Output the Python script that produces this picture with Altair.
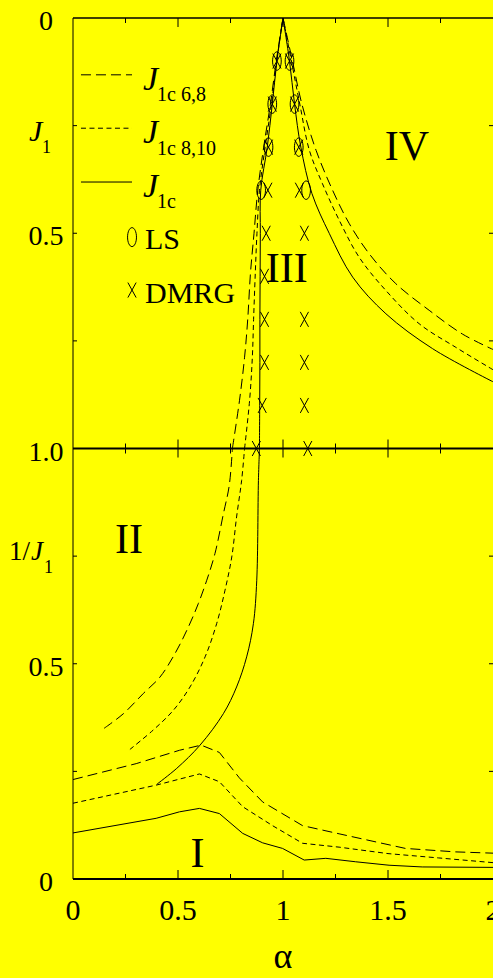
import altair as alt
import pandas as pd

# ---------------------------------------------------------------------------
# Critical coupling lines J1c(alpha).
# Each line: a rising branch drawn in the 1/J1 panel, a left and a right branch
# meeting at the apex (alpha = 1, J1 = 0) in the J1 panel, and a low branch in
# the 1/J1 panel.
# ---------------------------------------------------------------------------

# J1c 6,8 (long dash)
c68_rise_alpha = [0.148, 0.240, 0.335, 0.414, 0.486, 0.549, 0.597, 0.637, 0.676, 0.716, 0.744, 0.759]
c68_rise_inv = [0.350, 0.384, 0.431, 0.469, 0.524, 0.585, 0.640, 0.694, 0.756, 0.848, 0.914, 1.000]
c68_left_alpha = [0.759, 0.793, 0.817, 0.832, 0.845, 0.862, 0.880, 0.908, 0.940, 0.968, 1.000]
c68_left_j1 = [1.000, 0.888, 0.788, 0.700, 0.593, 0.500, 0.400, 0.300, 0.200, 0.100, 0.000]
c68_right_alpha = [1.000, 1.045, 1.090, 1.158, 1.237, 1.316, 1.411, 1.537, 1.696, 1.854, 2.000]
c68_right_j1 = [0.000, 0.100, 0.200, 0.308, 0.401, 0.478, 0.548, 0.617, 0.679, 0.734, 0.770]
c68_low_alpha = [0.000, 0.301, 0.507, 0.610, 0.697, 0.792, 0.903, 1.093, 1.267, 1.583, 1.821, 2.000]
c68_low_inv = [0.231, 0.268, 0.299, 0.311, 0.294, 0.235, 0.179, 0.124, 0.105, 0.071, 0.063, 0.060]

# J1c 8,10 (short dash)
c810_rise_alpha = [0.271, 0.382, 0.478, 0.557, 0.629, 0.684, 0.724, 0.756, 0.779, 0.803, 0.817]
c810_rise_inv = [0.301, 0.346, 0.392, 0.446, 0.516, 0.593, 0.671, 0.748, 0.841, 0.926, 1.000]
c810_left_alpha = [0.817, 0.841, 0.854, 0.860, 0.868, 0.876, 0.888, 0.915, 0.945, 0.970, 1.000]
c810_left_j1 = [1.000, 0.888, 0.788, 0.700, 0.593, 0.500, 0.400, 0.300, 0.200, 0.100, 0.000]
c810_right_alpha = [1.000, 1.040, 1.080, 1.126, 1.188, 1.268, 1.363, 1.490, 1.648, 1.823, 2.000]
c810_right_j1 = [0.000, 0.100, 0.200, 0.308, 0.385, 0.470, 0.556, 0.633, 0.710, 0.765, 0.817]
c810_low_alpha = [0.000, 0.396, 0.602, 0.697, 0.808, 0.950, 1.093, 1.267, 1.500, 1.740, 2.000]
c810_low_inv = [0.176, 0.218, 0.244, 0.226, 0.168, 0.124, 0.083, 0.074, 0.059, 0.049, 0.038]

# J1c extrapolated (solid)
c_rise_alpha = [0.399, 0.494, 0.605, 0.716, 0.779, 0.827, 0.859, 0.875, 0.883, 0.888]
c_rise_inv = [0.220, 0.257, 0.311, 0.384, 0.446, 0.516, 0.593, 0.694, 0.926, 1.000]
c_left_alpha = [0.888, 0.889, 0.890, 0.890, 0.891, 0.892, 0.894, 0.925, 0.949, 0.971, 1.000]
c_left_j1 = [1.000, 0.900, 0.800, 0.700, 0.600, 0.500, 0.400, 0.300, 0.200, 0.100, 0.000]
c_right_alpha = [1.000, 1.031, 1.055, 1.085, 1.138, 1.221, 1.332, 1.490, 1.712, 2.000]
c_right_j1 = [0.000, 0.100, 0.200, 0.300, 0.408, 0.501, 0.602, 0.687, 0.768, 0.845]
c_low_alpha = [0.000, 0.396, 0.507, 0.602, 0.697, 0.808, 0.903, 0.998, 1.101, 1.204, 1.346, 1.505, 1.663, 2.000]
c_low_inv = [0.107, 0.141, 0.156, 0.164, 0.152, 0.106, 0.084, 0.071, 0.044, 0.048, 0.040, 0.032, 0.028, 0.027]

# LS points
ls_alpha = [0.971, 0.949, 0.931, 0.896, 1.031, 1.055, 1.075, 1.110]
ls_j1 = [0.1, 0.2, 0.3, 0.4, 0.1, 0.2, 0.3, 0.4]

# DMRG points
dmrg_alpha = [0.971, 0.949, 0.931, 0.928, 0.920, 0.912, 0.912, 0.912, 0.901, 0.873,
              1.031, 1.055, 1.075, 1.078, 1.102, 1.102, 1.102, 1.102, 1.118]
dmrg_j1 = [0.1, 0.2, 0.3, 0.4, 0.5, 0.6, 0.7, 0.8, 0.9, 1.0,
           0.1, 0.2, 0.3, 0.4, 0.5, 0.7, 0.8, 0.9, 1.0]

# axis ticks and labels (the vertical coordinate runs 0..1 for J1, then 1..2 for 2 - 1/J1)
x_label_values = [0, 0.5, 1, 1.5, 2]
x_label_text = ["0", "0.5", "1", "1.5", "2"]
y_label_values = [0, 0.5, 1, 1.5, 2]
y_label_text = ["0", "0.5", "1.0", "0.5", "0"]
x_ticks_major = [0.5, 1.0, 1.5]
x_ticks_minor = [0.25, 0.75, 1.25, 1.75]
y_ticks = [0.25, 0.5, 0.75, 1.25, 1.5, 1.75]

# ---------------------------------------------------------------------------
SERIF = "Liberation Serif"
W, H = 420, 861
BG = "#ffff00"

xs = alt.Scale(domain=[0, 2], nice=False, zero=False)
ys = alt.Scale(domain=[0, 2], nice=False, zero=False, reverse=True)
U_EXPR = "datum.panel == 'J1' ? datum.val : 2 - datum.val"

ELLIPSE = "M-0.47,0A0.47,1,0,1,0,0.47,0A0.47,1,0,1,0,-0.47,0Z"
CROSS = "M-0.55,-1L0.55,1M-0.55,1L0.55,-1"


def branch(series, name, panel, alphas, vals):
    return pd.DataFrame({
        "piece": f"{series}-{name}", "panel": panel,
        "alpha": alphas, "val": vals, "idx": list(range(len(alphas))),
    })


def xy():
    return dict(
        x=alt.X("alpha:Q", scale=xs, axis=None),
        y=alt.Y("u:Q", scale=ys, axis=None),
    )


layers = []

# frame: top, middle and bottom edges, left edge
frame_h = pd.DataFrame({"u": [0, 1, 2], "w": [1.3, 2.0, 2.0]})
layers.append(
    alt.Chart(frame_h).mark_rule(color="black").encode(
        y=alt.Y("u:Q", scale=ys, axis=None),
        strokeWidth=alt.StrokeWidth("w:Q", scale=None),
    )
)
layers.append(
    alt.Chart(pd.DataFrame({"k": [0]})).mark_rule(color="black", strokeWidth=1).encode(
        x=alt.XDatum(0, scale=xs, axis=None)
    )
)

# inward alpha ticks on the top, middle and bottom edges
for ticks, L in [(x_ticks_major, 9), (x_ticks_minor, 5)]:
    tdf = pd.DataFrame({"a": ticks})
    tx = alt.X("a:Q", scale=xs, axis=None)
    layers.append(alt.Chart(tdf).mark_rule(color="black", y2Offset=L).encode(
        x=tx, y=alt.YDatum(0, scale=ys, axis=None), y2=alt.Y2Datum(0)))
    layers.append(alt.Chart(tdf).mark_rule(color="black", yOffset=-L, y2Offset=L).encode(
        x=tx, y=alt.YDatum(1, scale=ys, axis=None), y2=alt.Y2Datum(1)))
    layers.append(alt.Chart(tdf).mark_rule(color="black", y2Offset=-L).encode(
        x=tx, y=alt.YDatum(2, scale=ys, axis=None), y2=alt.Y2Datum(2)))

# inward ticks on the left and right edges
ytdf = pd.DataFrame({"t": y_ticks})
layers.append(alt.Chart(ytdf).mark_rule(color="black", x2Offset=4).encode(
    y=alt.Y("t:Q", scale=ys, axis=None), x=alt.XDatum(0, scale=xs, axis=None), x2=alt.X2Datum(0)))
layers.append(alt.Chart(ytdf).mark_rule(color="black", x2Offset=-4).encode(
    y=alt.Y("t:Q", scale=ys, axis=None), x=alt.XDatum(2, scale=xs, axis=None), x2=alt.X2Datum(2)))

# tick labels, placed through the scales
layers.append(
    alt.Chart(pd.DataFrame({"alpha": x_label_values, "text": x_label_text}))
    .mark_text(font=SERIF, fontSize=30, color="black", align="center", baseline="middle")
    .encode(x=alt.X("alpha:Q", scale=xs, axis=None), y=alt.value(H + 32), text="text:N")
)
layers.append(
    alt.Chart(pd.DataFrame({"u": y_label_values, "text": y_label_text}))
    .mark_text(font=SERIF, fontSize=28, color="black", align="center", baseline="middle", dy=4)
    .encode(y=alt.Y("u:Q", scale=ys, axis=None), x=alt.value(-27), text="text:N")
)

# critical lines
series_defs = [
    ("68", [10, 5],
     (c68_rise_alpha, c68_rise_inv), (c68_left_alpha, c68_left_j1),
     (c68_right_alpha, c68_right_j1), (c68_low_alpha, c68_low_inv)),
    ("810", [5, 3.5],
     (c810_rise_alpha, c810_rise_inv), (c810_left_alpha, c810_left_j1),
     (c810_right_alpha, c810_right_j1), (c810_low_alpha, c810_low_inv)),
    ("c", None,
     (c_rise_alpha, c_rise_inv), (c_left_alpha, c_left_j1),
     (c_right_alpha, c_right_j1), (c_low_alpha, c_low_inv)),
]

for name, dash, rise, left, right, low in series_defs:
    kw = dict(color="black", strokeWidth=1, clip=True)
    if dash:
        kw["strokeDash"] = dash
    smooth = pd.concat([
        branch(name, "rise", "inv", *rise),
        branch(name, "left", "J1", *left),
        branch(name, "right", "J1", *right),
    ])
    lowdf = branch(name, "low", "inv", *low)
    layers.append(
        alt.Chart(smooth).transform_calculate(u=U_EXPR)
        .mark_line(interpolate="catmull-rom", **kw)
        .encode(detail="piece:N", order="idx:Q", **xy())
    )
    layers.append(
        alt.Chart(lowdf).transform_calculate(u=U_EXPR)
        .mark_line(**kw)
        .encode(detail="piece:N", order="idx:Q", **xy())
    )

# LS and DMRG points
layers.append(
    alt.Chart(pd.DataFrame({"alpha": ls_alpha, "u": ls_j1}))
    .mark_point(shape=ELLIPSE, size=340, filled=False, color="black", strokeWidth=1, opacity=1)
    .encode(**xy())
)
layers.append(
    alt.Chart(pd.DataFrame({"alpha": dmrg_alpha, "u": dmrg_j1}))
    .mark_point(shape=CROSS, size=225, filled=False, color="black", strokeWidth=1, opacity=1)
    .encode(**xy())
)

# legend samples
for dash, u in [([10, 5], 0.132), ([5, 3.5], 0.256), (None, 0.381)]:
    kw = dict(color="black", strokeWidth=1)
    if dash:
        kw["strokeDash"] = dash
    layers.append(
        alt.Chart(pd.DataFrame({"alpha": [0.038, 0.281], "u": [u, u]}))
        .mark_line(**kw).encode(**xy())
    )
layers.append(
    alt.Chart(pd.DataFrame({"alpha": [0.281], "u": [0.509]}))
    .mark_point(shape=ELLIPSE, size=360, filled=False, color="black", strokeWidth=1, opacity=1)
    .encode(**xy())
)
layers.append(
    alt.Chart(pd.DataFrame({"alpha": [0.281], "u": [0.632]}))
    .mark_point(shape=CROSS, size=225, filled=False, color="black", strokeWidth=1, opacity=1)
    .encode(**xy())
)


def text_layer(df, **mark):
    return alt.Chart(df).mark_text(color="black", font=SERIF, **mark).encode(
        text="text:N", size=alt.Size("size:Q", scale=None), **xy()
    )


legend_j = pd.DataFrame({"text": ["J", "J", "J"], "alpha": [0.333] * 3,
                         "u": [0.167, 0.290, 0.416], "size": [34] * 3})
legend_txt = pd.DataFrame({
    "text": ["1c 6,8", "1c 8,10", "1c", "LS", "DMRG"],
    "alpha": [0.400, 0.400, 0.400, 0.343, 0.343],
    "u": [0.193, 0.318, 0.441, 0.537, 0.662],
    "size": [20, 20, 20, 30, 30],
})
regions = pd.DataFrame({
    "text": ["IV", "III", "II", "I"],
    "alpha": [1.590, 1.018, 0.267, 0.593],
    "u": [0.331, 0.614, 1.243, 1.972],
    "size": [42] * 4,
})
layers.append(text_layer(legend_j, align="left", baseline="alphabetic", fontStyle="italic"))
layers.append(text_layer(legend_txt, align="left", baseline="alphabetic"))
layers.append(text_layer(regions, align="center", baseline="alphabetic"))

# axis titles: alpha below, J1 (upper) and 1/J1 (lower) on the left
one = pd.DataFrame({"k": [0]})


def title_piece(text, px, py, size, align="left", italic=False):
    kw = dict(color="black", font=SERIF, fontSize=size, align=align, baseline="alphabetic")
    if italic:
        kw["fontStyle"] = "italic"
    return alt.Chart(one).mark_text(**kw).encode(
        x=alt.value(px), y=alt.value(py), text=alt.value(text))


layers += [
    title_piece("α", W / 2, H + 89, 36, align="center"),
    title_piece("J", -44, 123, 30, italic=True),
    title_piece("1", -31, 135, 18),
    title_piece("1/", -43, 542, 27, align="right"),
    title_piece("J", -42, 542, 27, italic=True),
    title_piece("1", -29, 555, 18),
]

chart = (
    alt.layer(*layers)
    .properties(
        width=W, height=H, background=BG,
        padding={"left": 73, "top": 18, "right": 0, "bottom": 99},
        autosize=alt.AutoSizeParams(type="none"),
    )
    .configure(font=SERIF)
    .configure_view(stroke=None)
)

chart.save("out.html", embed_options={"renderer": "svg", "actions": False})
